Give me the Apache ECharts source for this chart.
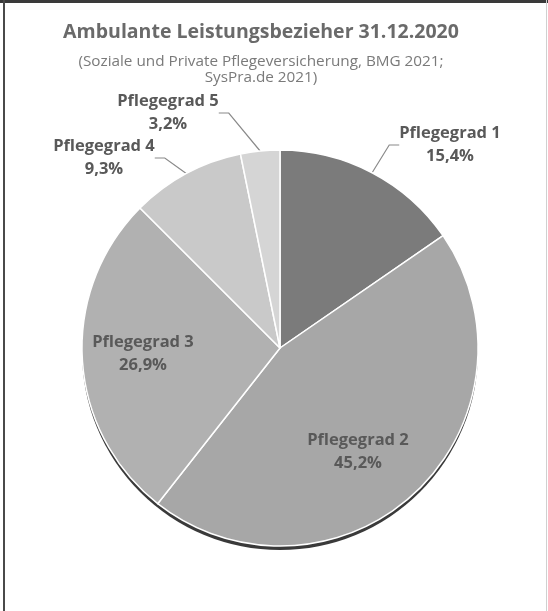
<!DOCTYPE html>
<html>
<head>
<meta charset="utf-8">
<script src="https://cdn.jsdelivr.net/npm/echarts@6/dist/echarts.min.js"></script>
<style>
  html, body { margin: 0; padding: 0; background: #fff; }
  .frame-top { position: absolute; left: 0; top: 0; width: 548px; height: 3px; background: #3a3a3a; }
  .frame-left { position: absolute; left: 3px; top: 0; width: 2px; height: 611px; background: #4a4a4a; }
  .frame-right { position: absolute; left: 546px; top: 0; width: 1px; height: 611px; background: #d0d0d0; }
  #chart { position: absolute; left: 0; top: 0; width: 548px; height: 611px; }
</style>
</head>
<body>
<div id="chart"></div>
<div class="frame-top"></div>
<div class="frame-left"></div>
<div class="frame-right"></div>
<script>
// Pflegegrade, Anteile in Prozent
const categories = ['Pflegegrad 1', 'Pflegegrad 2', 'Pflegegrad 3', 'Pflegegrad 4', 'Pflegegrad 5']
const shares = [15.4, 45.2, 26.9, 9.3, 3.2]
const shareLabels = ['15,4%', '45,2%', '26,9%', '9,3%', '3,2%']
const sliceColors = ['#7b7b7b', '#a7a7a7', '#b1b1b1', '#c9c9c9', '#d5d5d5']

// where each label sits (label centre)
const labelSpots = [[450, 145], [358, 452], [143, 354], [104, 158], [168, 113]]

const chart = echarts.init(document.getElementById('chart'))

chart.setOption({
  title: {
    text: 'Ambulante Leistungsbezieher 31.12.2020',
    subtext: '(Soziale und Private Pflegeversicherung, BMG 2021;\nSysPra.de 2021)',
    left: 256,
    top: 17,
    textAlign: 'center',
    itemGap: 11,
    textStyle: {
      fontFamily: 'Open Sans',
      fontSize: 19.5,
      fontWeight: 'bold',
      color: '#6a6a6a'
    },
    subtextStyle: {
      fontFamily: 'Open Sans',
      fontSize: 15.3,
      lineHeight: 16.5,
      color: '#7a7a7a'
    }
  },
  series: [
    {
      // dunkler Rand unten
      type: 'pie',
      silent: true,
      center: [280, 352],
      radius: 198,
      label: { show: false },
      labelLine: { show: false },
      itemStyle: { color: '#3a3a3a' },
      data: [{ value: 1 }],
      z: 1
    },
    {
      type: 'pie',
      center: [280, 348],
      radius: 198,
      startAngle: 90,
      clockwise: true,
      z: 2,
      itemStyle: {
        borderColor: '#ffffff',
        borderWidth: 1.5
      },
      label: {
        show: true,
        position: 'outside',
        overflow: 'none',
        fontFamily: 'Open Sans',
        fontSize: 16.5,
        fontWeight: 'bold',
        color: '#595959',
        lineHeight: 23,
        align: 'center',
        formatter: p => p.name + '\n' + shareLabels[p.dataIndex]
      },
      labelLine: {
        show: true,
        length: 10,
        length2: 10,
        lineStyle: { color: '#8a8a8a', width: 1.2 }
      },
      labelLayout: function (params) {
        const spot = labelSpots[params.dataIndex]
        return {
          x: spot[0],
          y: spot[1],
          align: 'center',
          verticalAlign: 'middle'
        }
      },
      data: categories.map((name, i) => ({
        name: name,
        value: shares[i],
        itemStyle: { color: sliceColors[i] },
        labelLine: { show: i === 0 || i === 3 || i === 4 }
      }))
    }
  ]
})
</script>
</body>
</html>
